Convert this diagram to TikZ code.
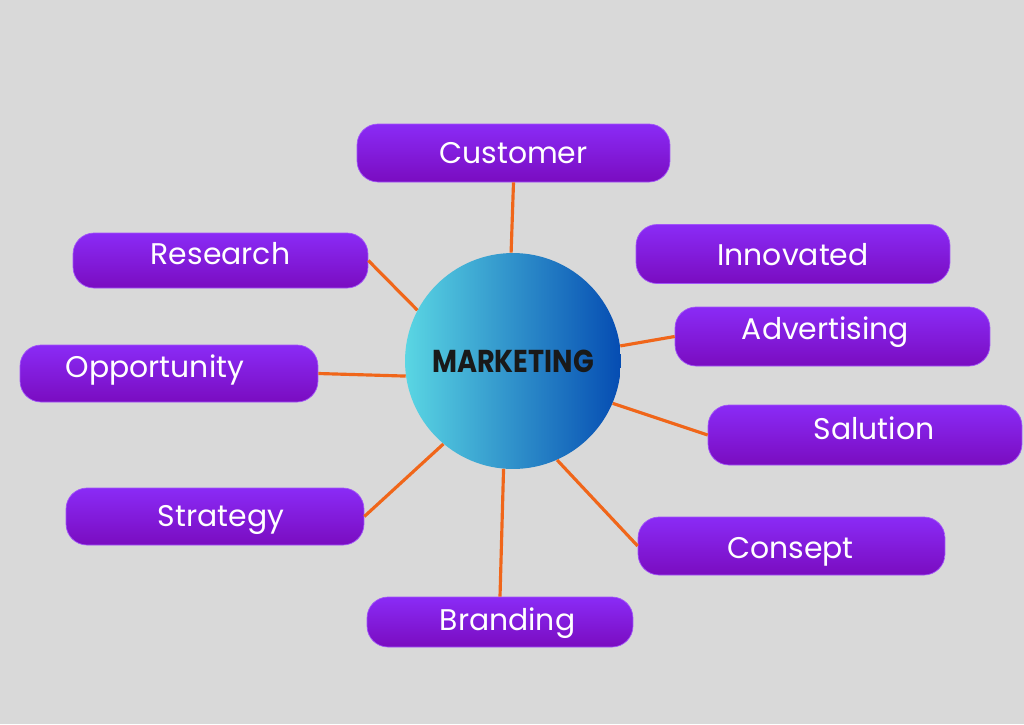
\documentclass[tikz,border=0pt]{standalone}
\usepackage{fontspec}
\setmainfont{Poppins}
\usepackage{tikz}
\usetikzlibrary{positioning,shadings}

\definecolor{bgGrey}{HTML}{D9D9D9}
\definecolor{topPurple}{HTML}{8A2BF6}
\definecolor{botPurple}{HTML}{7A0CC0}
\definecolor{hubCyan}{HTML}{5AD6E3}
\definecolor{hubBlue}{HTML}{054CB2}
\definecolor{linkOrange}{HTML}{F0661A}

\begin{document}
\begin{tikzpicture}[
  x=0.02cm,y=-0.02cm,
  topic/.style={rounded corners=0.42cm, top color=topPurple, bottom color=botPurple, draw=topPurple!80!white, line width=0.4pt, inner sep=0pt},
  lbl/.style={text=white, font=\fontsize{17}{20}\selectfont, text height=0.7em, text depth=0pt, inner sep=0pt},
  hub/.style={circle, minimum size=4.32cm, left color=hubCyan, right color=hubBlue, shading angle=90, font=\bfseries\fontsize{18}{20}\selectfont, text=black!90},
  link/.style={linkOrange, line width=1.8pt}
]
% background and page size
\fill[bgGrey] (0,0) rectangle (1024,724);

\node[hub] (mkt) at (513,361) {\scalebox{0.86}[1]{MARKETING}};

\node[topic, minimum width=6.26cm, minimum height=1.16cm,
  label={[lbl,yshift=-0.08cm]center:Customer}] (cust) at (513.5,153) {};
\node[topic, minimum width=5.90cm, minimum height=1.10cm,
  label={[lbl,yshift=0.05cm]center:Research}] (res) at (220.5,260.5) {};
\node[topic, minimum width=6.28cm, minimum height=1.18cm,
  label={[lbl,yshift=-0.1cm]center:Innovated}] (inno) at (793,254) {};
\node[topic, minimum width=6.30cm, minimum height=1.18cm,
  label={[lbl,xshift=-0.14cm,yshift=0.07cm]center:Advertising}] (adv) at (832.5,336.5) {};
\node[topic, minimum width=5.96cm, minimum height=1.14cm,
  label={[lbl,xshift=-0.28cm,yshift=0.04cm]center:Opportunity}] (opp) at (169,373.5) {};
\node[topic, minimum width=6.28cm, minimum height=1.20cm,
  label={[lbl,xshift=0.18cm,yshift=0.04cm]center:Salution}] (sal) at (865,435) {};
\node[topic, minimum width=5.96cm, minimum height=1.14cm,
  label={[lbl,xshift=0.12cm,yshift=-0.07cm]center:Strategy}] (strat) at (215,516.5) {};
\node[topic, minimum width=6.14cm, minimum height=1.16cm,
  label={[lbl,xshift=-0.02cm,yshift=-0.12cm]center:Consept}] (cons) at (791.5,546) {};
\node[topic, minimum width=5.32cm, minimum height=1.00cm,
  label={[lbl,xshift=0.15cm,yshift=-0.05cm]center:Branding}] (brand) at (500,622) {};

% spokes
\draw[link] (cust.south) -- (mkt.91);
\draw[link] (res.east) -- (mkt.152);
\draw[link] (opp.east) -- (mkt.188);
\draw[link] (strat.east) -- (mkt.230);
\draw[link] (brand.north) -- (mkt.265);
\draw[link] (cons.west) -- (mkt.294);
\draw[link] (sal.west) -- (mkt.337);
\draw[link] (adv.west) -- (mkt.8);
\end{tikzpicture}
\end{document}
